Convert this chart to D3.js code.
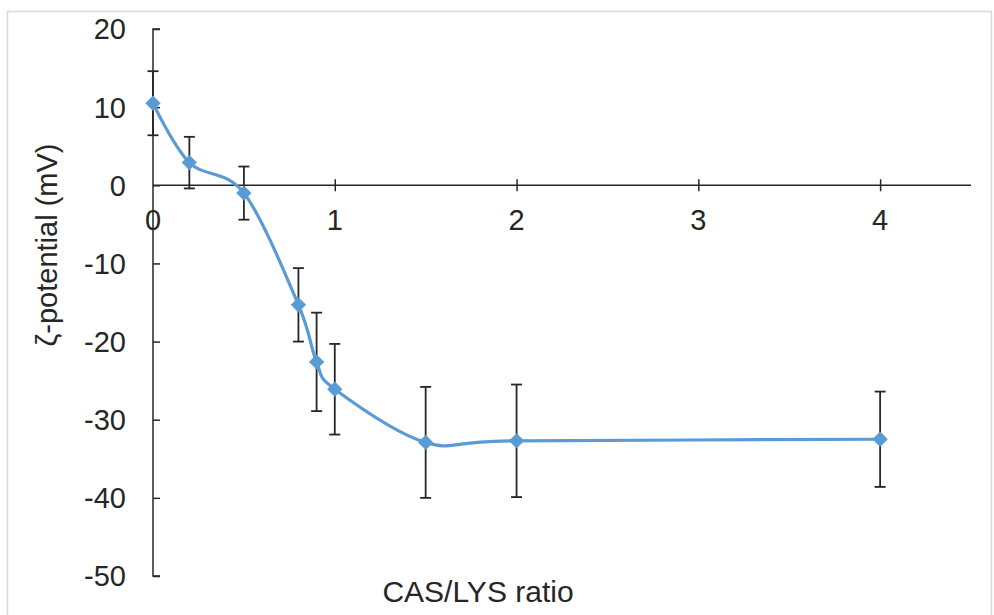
<!DOCTYPE html>
<html><head><meta charset="utf-8">
<script src="https://cdn.jsdelivr.net/npm/d3@7"></script>
<style>body{margin:0;background:#fff}svg{display:block}text{font-family:"Liberation Sans",Arial,sans-serif;fill:#262626}</style>
</head><body><svg id="c" width="994" height="615"></svg>
<script>
const ratio = [0, 0.2, 0.5, 0.8, 0.9, 1, 1.5, 2, 4];
const zeta = [10.5, 2.9, -1.0, -15.3, -22.6, -26.1, -32.9, -32.7, -32.5];
const err = [4.1, 3.3, 3.4, 4.7, 6.3, 5.8, 7.1, 7.2, 6.1];
const xTicks = [0, 1, 2, 3, 4];
const yTicks = [20, 10, 0, -10, -20, -30, -40, -50];

const svg = d3.select("#c");
const x = d3.scaleLinear().domain([0, 4.5]).range([153, 971]);
const y = d3.scaleLinear().domain([-50, 20]).range([576, 29]);

svg.append("rect").attr("x", 7.5).attr("y", 11.5).attr("width", 984).attr("height", 640)
  .attr("fill", "none").attr("stroke", "#d9d9d9").attr("stroke-width", 1.5);

// y axis (ticks inside to the right)
const ya = svg.append("g").attr("transform", `translate(${x(0)},0)`)
  .call(d3.axisRight(y).tickValues(yTicks).tickSize(7).tickFormat(""));
ya.select(".domain").attr("stroke", "#262626").attr("stroke-width", 1.5).attr("d", `M7,${y(20)}H0V${y(-50)}H7`);
ya.selectAll(".tick line").attr("stroke", "#262626").attr("stroke-width", 1.5);
svg.append("g").selectAll("text").data(yTicks).join("text")
  .attr("x", 126).attr("y", d => y(d)).attr("dy", "0.36em").attr("text-anchor", "end")
  .attr("font-size", 29).text(d => d);

// x axis at y=0, ticks crossing
const xa = svg.append("g").attr("transform", `translate(0,${y(0)})`)
  .call(d3.axisBottom(x).tickValues(xTicks.filter(d => d > 0)).tickSize(5).tickFormat(""));
xa.select(".domain").attr("stroke", "#262626").attr("stroke-width", 1.5).attr("d", `M${x(0)},0H${x(4.5)}`);
xa.selectAll(".tick line").attr("stroke", "#262626").attr("stroke-width", 1.5).attr("y1", -6).attr("y2", 6);
svg.append("g").selectAll("text").data(xTicks).join("text")
  .attr("x", d => x(d)).attr("y", y(0) + 45).attr("text-anchor", "middle")
  .attr("font-size", 29).text(d => d);

// error bars
const eb = svg.append("g").attr("stroke", "#262626").attr("stroke-width", 1.8);
ratio.forEach((r, i) => {
  const cx = x(r), t = y(zeta[i] + err[i]), b = y(zeta[i] - err[i]);
  eb.append("line").attr("x1", cx).attr("x2", cx).attr("y1", t).attr("y2", b);
  eb.append("line").attr("x1", cx - 5.5).attr("x2", cx + 5.5).attr("y1", t).attr("y2", t);
  eb.append("line").attr("x1", cx - 5.5).attr("x2", cx + 5.5).attr("y1", b).attr("y2", b);
});

// smooth line
const pts = ratio.map((r, i) => [r, zeta[i]]);
svg.append("path").datum(pts)
  .attr("d", d3.line().x(d => x(d[0])).y(d => y(d[1])).curve(d3.curveCardinal.tension(0)))
  .attr("fill", "none").attr("stroke", "#5b9bd5").attr("stroke-width", 3.2);

svg.append("g").selectAll("path").data(pts).join("path")
  .attr("transform", d => `translate(${x(d[0])},${y(d[1])})`)
  .attr("d", d3.symbol(d3.symbolDiamond2, 150)).attr("fill", "#5b9bd5");

// titles
svg.append("text").attr("x", 478).attr("y", 602).attr("text-anchor", "middle").attr("font-size", 30).text("CAS/LYS ratio");
svg.append("text").attr("transform", "translate(57,245) rotate(-90)").attr("text-anchor", "middle")
  .attr("font-size", 29).text("ζ-potential (mV)");
</script></body></html>
